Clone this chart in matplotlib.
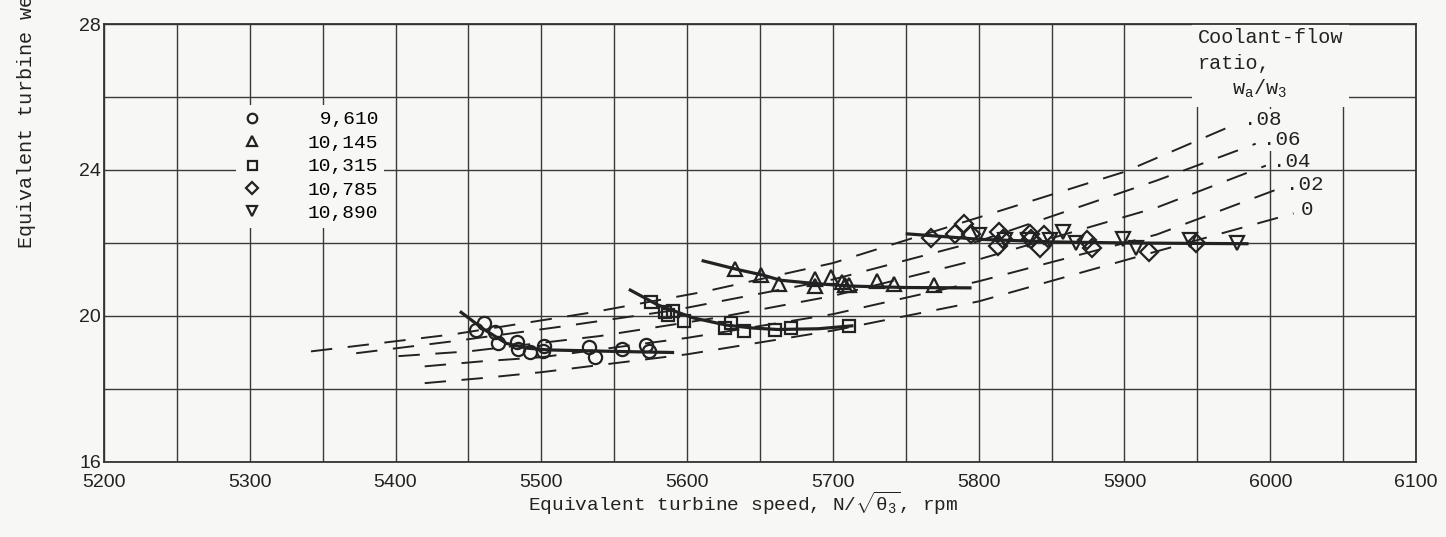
import matplotlib
matplotlib.use('Agg')
import matplotlib.pyplot as plt
from matplotlib.patches import Rectangle
from matplotlib.ticker import MultipleLocator

plt.rcParams['font.family'] = ['Liberation Mono', 'DejaVu Sans']
plt.rcParams['mathtext.fontset'] = 'custom'
plt.rcParams['mathtext.rm'] = 'Liberation Mono'
plt.rcParams['mathtext.it'] = 'Liberation Mono'

# test points, equivalent speed (rpm) vs equivalent weight flow
circ_x = [5455, 5461, 5468, 5470, 5483, 5484, 5492, 5502, 5501, 5533, 5537, 5555, 5572, 5574]
circ_y = [19.61, 19.80, 19.55, 19.25, 19.28, 19.09, 19.01, 19.17, 19.03, 19.14, 18.87, 19.09, 19.20, 19.03]
sq_x = [5575, 5585, 5587, 5590, 5598, 5626, 5630, 5639, 5660, 5671, 5711]
sq_y = [20.37, 20.10, 20.02, 20.13, 19.85, 19.66, 19.80, 19.58, 19.61, 19.66, 19.72]
tri_x = [5633, 5651, 5663, 5688, 5688, 5699, 5706, 5708, 5711, 5730, 5742, 5769]
tri_y = [21.28, 21.11, 20.87, 21.00, 20.81, 21.08, 20.94, 20.84, 20.84, 20.95, 20.87, 20.84]
dia_x = [5767, 5784, 5790, 5795, 5814, 5813, 5817, 5835, 5836, 5842, 5845, 5874, 5878, 5917, 5949]
dia_y = [22.15, 22.26, 22.51, 22.26, 22.29, 21.93, 22.12, 22.26, 22.12, 21.85, 22.21, 22.07, 21.85, 21.74, 22.01]
dtri_x = [5800, 5818, 5834, 5849, 5858, 5867, 5899, 5908, 5945, 5977]
dtri_y = [22.21, 22.07, 22.07, 22.07, 22.29, 22.01, 22.10, 21.85, 22.07, 21.99]

series_labels = [' 9,610', '10,145', '10,315', '10,785', '10,890']

# faired curves through the points
fit1_x = [5445, 5460, 5476, 5490, 5505, 5550, 5590]
fit1_y = [20.10, 19.65, 19.25, 19.12, 19.07, 19.03, 19.00]
fit2_x = [5561, 5580, 5604, 5627, 5645, 5662, 5690, 5713]
fit2_y = [20.71, 20.30, 19.95, 19.75, 19.67, 19.63, 19.65, 19.73]
fit3_x = [5611, 5636, 5652, 5664, 5690, 5712, 5750, 5794]
fit3_y = [21.51, 21.26, 21.12, 20.98, 20.88, 20.82, 20.78, 20.77]
fit4_x = [5751, 5801, 5851, 5902, 5984]
fit4_y = [22.25, 22.10, 22.03, 22.00, 21.98]

# lines of constant coolant-flow ratio
ratio_labels = ['.08', '.06', '.04', '.02', '0']
r08_x = [5342, 5440, 5535, 5611, 5700, 5800, 5900, 5977]
r08_y = [19.03, 19.50, 20.10, 20.66, 21.45, 22.70, 23.95, 25.27]
r06_x = [5373, 5440, 5512, 5590, 5700, 5800, 5922, 5990]
r06_y = [18.98, 19.31, 19.70, 20.15, 21.00, 22.05, 23.71, 24.72]
r04_x = [5402, 5450, 5540, 5620, 5700, 5800, 5922, 5997]
r04_y = [18.90, 19.03, 19.45, 19.95, 20.55, 21.55, 22.97, 24.12]
r02_x = [5420, 5460, 5500, 5600, 5700, 5800, 5922, 6006]
r02_y = [18.62, 18.76, 18.87, 19.40, 20.05, 20.95, 22.23, 23.49]
r00_x = [5420, 5460, 5500, 5600, 5700, 5800, 5922, 6016]
r00_y = [18.16, 18.30, 18.46, 18.95, 19.60, 20.40, 21.77, 22.81]

bg = '#f7f7f5'
ink = '#222222'

fig = plt.figure(figsize=(14.46, 5.37), dpi=100, facecolor=bg)
ax = fig.add_axes([0.0719, 0.1397, 0.9074, 0.8156], facecolor=bg)
ax.set_xlim(5200, 6100)
ax.set_ylim(16, 28)
ax.xaxis.set_major_locator(MultipleLocator(100))
ax.xaxis.set_minor_locator(MultipleLocator(50))
ax.yaxis.set_major_locator(MultipleLocator(4))
ax.yaxis.set_minor_locator(MultipleLocator(2))
ax.set_axisbelow(True)
ax.grid(which='both', color='#3a3a3a', linewidth=1.0)
ax.tick_params(which='both', length=0, labelsize=14, labelcolor=ink,
               labelfontfamily='Liberation Sans')
ax.tick_params(axis='x', pad=9)
ax.tick_params(axis='y', pad=2)
for s in ax.spines.values():
    s.set_color('#333333')
    s.set_linewidth(1.3)

# gap in the grid behind the key
ax.add_patch(Rectangle((5946, 25.72), 108, 2.28, facecolor=bg, edgecolor='none', zorder=1))

dash = (0, (11, 8))
curves = [(r08_x, r08_y), (r06_x, r06_y), (r04_x, r04_y), (r02_x, r02_y), (r00_x, r00_y)]
for i, (cx, cy) in enumerate(curves):
    ax.plot(cx, cy, color=ink, lw=1.4, linestyle=dash, zorder=2)
    box = dict(fc=bg, ec='none', pad=1) if i < 2 else None
    ax.annotate(ratio_labels[i], xy=(cx[-1], cy[-1]), xytext=(5, 3), textcoords='offset points',
                fontsize=15, ha='left', va='center', color=ink, bbox=box)

for fx, fy in [(fit1_x, fit1_y), (fit2_x, fit2_y), (fit3_x, fit3_y), (fit4_x, fit4_y)]:
    ax.plot(fx, fy, color=ink, lw=2.3, zorder=3)

mk = dict(ls='none', mfc='none', mec=ink, mew=1.6, zorder=4)
h1, = ax.plot(circ_x, circ_y, marker='o', ms=9.5, **mk)
h2, = ax.plot(tri_x, tri_y, marker='^', ms=9.5, **mk)
h3, = ax.plot(sq_x, sq_y, marker='s', ms=9, **mk)
h4, = ax.plot(dia_x, dia_y, marker='D', ms=9, **mk)
h5, = ax.plot(dtri_x, dtri_y, marker='v', ms=9.5, **mk)

ax.legend([h1, h2, h3, h4, h5], series_labels, loc='upper left', bbox_to_anchor=(0.1006, 0.815),
          borderaxespad=0, frameon=True, facecolor=bg, edgecolor='none', framealpha=1,
          fancybox=False, handlelength=1.0, handletextpad=2.4, labelspacing=0.3,
          borderpad=0.3, prop={'family': 'Liberation Mono', 'size': 14}, markerscale=0.72)

ax.text(5950, 27.64, 'Coolant-flow', fontsize=14.5, ha='left', va='center', color=ink)
ax.text(5950, 26.93, 'ratio,', fontsize=14.5, ha='left', va='center', color=ink)
ax.text(5974, 26.22, r'$\mathrm{w_a/w_3}$', fontsize=14.5, ha='left', va='center', color=ink)

ax.set_xlabel(r'Equivalent turbine speed, N/$\sqrt{\theta_3}$, rpm', fontsize=14, color=ink)
ax.xaxis.set_label_coords(0.487, -0.064)
# the source figure is cropped at the top, so this label runs off the edge as it does there
fig.text(24 / 1446, 1 - 249 / 537,
         r'Equivalent turbine weight flow, $\mathrm{w_3}\sqrt{\theta_3}/\delta_3$, lb/sec',
         rotation=90, ha='center', va='bottom', fontsize=14.5, color=ink)

fig.savefig('out.png', dpi=100, facecolor=bg)
